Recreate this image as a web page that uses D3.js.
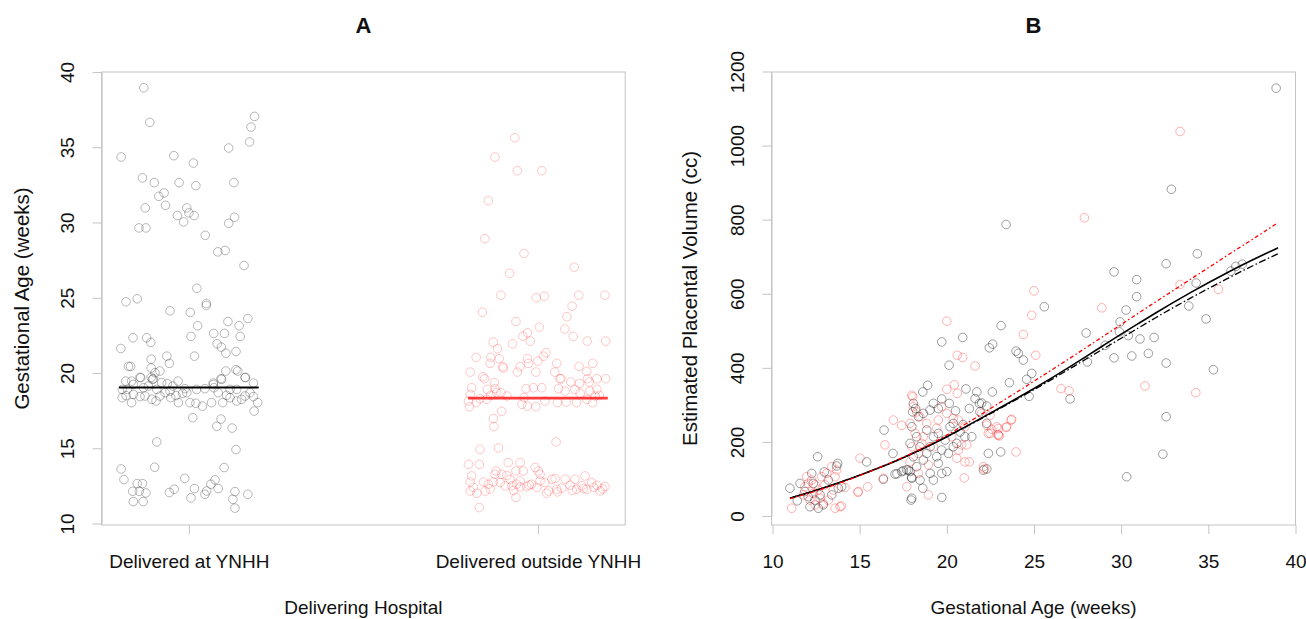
<!DOCTYPE html>
<html><head><meta charset="utf-8">
<script src="https://cdn.jsdelivr.net/npm/d3@7"></script>
<style>
body{margin:0;background:#fff;}
text{font-family:"Liberation Sans", Arial, Helvetica, sans-serif;fill:#111;}
</style></head><body>
<svg id="chart" width="1306" height="619"></svg>
<script>
// ---------- DATA ----------
const groups = ["Delivered at YNHH", "Delivered outside YNHH"];
const gaTicks = [10, 15, 20, 25, 30, 35, 40];
const weekTicks = [10, 15, 20, 25, 30, 35, 40];
const volTicks = [0, 200, 400, 600, 800, 1000, 1200];
const groupMeans = [19.03, 18.33];

// Panel A: jitter offsets (category units) and gestational ages
const ynhhOffset = [-0.129,-0.112,0.188,0.178,0.174,-0.194,-0.043,0.114,0.013,-0.133,-0.099,-0.028,0.020,0.129,-0.071,-0.086,-0.067,-0.125,-0.006,-0.033,0.000,0.015,-0.015,0.131,0.114,-0.143,-0.123,0.047,0.083,0.104,0.158,0.023,-0.180,-0.148,0.050,0.050,-0.054,0.004,0.112,0.144,0.169,0.025,0.071,0.102,0.147,-0.160,-0.121,-0.109,0.006,0.081,0.093,0.106,0.135,-0.195,0.016,-0.108,-0.063,-0.056,-0.173,-0.167,-0.108,-0.083,-0.097,-0.108,-0.102,0.106,0.135,0.140,0.162,-0.140,0.092,0.070,0.185,-0.191,-0.181,-0.164,-0.159,-0.138,-0.130,-0.116,-0.104,-0.092,-0.078,-0.062,-0.046,-0.031,-0.011,-0.006,-0.191,-0.180,-0.164,-0.159,-0.140,-0.126,-0.106,-0.094,-0.083,-0.068,-0.052,-0.037,-0.030,-0.018,0.003,0.020,0.039,0.070,0.094,0.118,0.137,0.161,0.072,0.084,0.097,0.065,0.108,0.118,0.137,0.161,0.175,0.185,0.197,0.187,0.151,0.046,0.022,-0.054,-0.176,0.011,0.080,0.092,0.124,-0.092,0.135,-0.194,-0.098,0.101,-0.186,-0.012,-0.148,-0.133,-0.161,-0.142,-0.123,-0.056,-0.042,0.016,0.006,0.046,0.051,0.063,0.075,0.084,0.132,0.126,0.132,0.169,-0.159,-0.131];
const ynhhGA = [38.95,36.65,37.05,36.34,35.35,34.35,34.44,34.95,33.95,32.96,32.65,32.65,32.45,32.65,31.96,31.74,31.14,30.97,30.97,30.46,30.64,30.46,30.04,30.35,29.95,29.64,29.64,29.15,28.05,28.14,27.14,25.63,24.73,24.93,24.62,24.49,24.13,24.02,23.42,23.14,23.62,23.14,22.63,22.63,22.43,22.34,22.34,22.03,22.43,21.94,21.72,21.32,21.43,21.63,21.12,20.92,21.12,20.64,20.44,20.44,20.33,20.13,20.02,19.71,19.62,20.13,20.22,20.13,19.71,19.71,19.62,19.33,19.33,18.91,19.46,19.46,19.24,19.69,19.02,19.13,19.58,18.91,19.36,19.30,19.13,19.46,18.96,18.69,18.36,18.50,18.03,18.58,18.43,18.47,18.25,18.14,18.47,18.69,18.36,18.50,18.03,18.65,18.03,17.99,17.80,19.24,19.58,18.91,18.91,19.69,19.02,18.69,18.03,18.03,18.52,18.36,18.14,18.47,18.69,18.43,18.03,17.47,18.25,18.96,18.91,18.80,18.91,17.03,16.46,16.94,16.34,15.42,14.91,13.62,13.74,13.72,12.92,13.00,12.65,12.65,12.14,12.14,12.03,12.06,12.28,12.32,11.70,11.94,12.16,12.61,12.90,12.32,12.12,11.61,11.02,11.94,11.46,11.46];

const outsideOffset = [-0.066,-0.123,-0.059,0.011,-0.142,-0.152,-0.040,0.104,-0.081,-0.106,-0.005,0.018,0.117,0.192,0.098,0.083,-0.159,-0.063,0.004,0.077,0.101,0.141,0.194,-0.043,-0.030,-0.022,-0.073,-0.128,-0.116,-0.177,-0.135,-0.137,-0.111,-0.101,-0.099,-0.030,-0.027,0.000,0.016,0.023,-0.051,-0.059,-0.006,0.054,0.048,0.066,0.118,0.140,0.157,-0.194,-0.158,-0.153,-0.125,0.094,0.119,0.142,0.147,0.169,0.194,0.063,-0.190,-0.194,-0.145,-0.123,-0.106,-0.089,-0.034,-0.013,0.011,0.059,0.078,0.106,0.121,0.149,0.169,0.176,-0.199,-0.196,-0.177,-0.166,-0.147,-0.135,-0.118,-0.046,-0.030,-0.006,0.020,0.056,0.081,0.111,0.140,0.157,0.164,-0.040,-0.128,-0.126,-0.104,-0.166,-0.113,0.052,-0.199,-0.168,-0.085,-0.051,-0.120,-0.123,-0.063,-0.042,-0.008,0.001,0.006,-0.190,-0.156,-0.128,-0.194,-0.194,-0.175,-0.168,-0.151,-0.108,-0.094,-0.080,-0.075,-0.061,-0.051,-0.032,-0.018,-0.003,0.006,0.020,0.030,0.040,0.049,0.054,0.078,0.092,0.106,0.111,0.126,0.135,0.140,0.154,0.169,0.178,0.192,-0.063,0.025,0.056,-0.142,-0.089,0.130,-0.104,-0.051,-0.185,-0.137,-0.070,-0.025,0.068,0.098,0.160,0.185];
const outsideGA = [35.63,34.35,33.44,33.44,31.45,28.93,27.94,27.03,26.63,25.17,25.00,25.10,25.17,25.17,24.44,23.74,24.04,23.42,23.05,22.92,22.43,22.12,22.12,22.45,22.67,22.12,21.94,22.05,21.61,21.04,21.04,20.64,20.95,20.42,20.33,20.95,20.64,20.79,21.12,21.35,20.42,20.06,20.06,20.64,20.06,19.62,20.44,20.11,20.64,20.06,19.75,19.62,19.36,19.40,19.31,19.62,19.40,19.62,19.62,19.62,19.02,18.58,18.91,18.96,18.69,18.47,18.96,19.02,19.02,18.96,18.80,18.91,18.65,18.80,18.91,18.51,18.14,17.76,18.03,18.29,18.25,18.51,18.69,17.92,17.80,17.76,18.14,18.03,18.07,18.03,18.25,18.03,18.47,18.36,16.97,16.44,17.45,14.93,15.02,15.42,13.93,13.93,14.05,14.05,13.49,13.27,13.49,13.49,13.72,13.49,13.27,13.16,12.76,12.76,12.76,12.16,12.01,11.06,12.16,12.72,12.50,12.94,12.50,12.61,12.43,12.46,12.61,12.39,12.83,12.72,12.16,12.94,12.99,12.28,12.94,12.54,12.94,12.28,12.50,13.16,12.28,12.72,12.54,12.16,12.46,11.73,12.01,12.10,12.61,13.20,12.32,13.27,12.83,12.40,12.30,12.20,12.55,12.35,12.20,12.40,12.30];

// Panel B: gestational age (weeks) and estimated placental volume (cc)
const ynhhWeeks = [12.59,11.0,11.42,15.40,16.91,16.36,17.03,17.41,17.79,17.98,17.95,13.74,13.97,12.25,12.97,11.86,12.44,12.15,12.63,13.40,13.78,12.73,11.58,12.34,13.20,12.05,12.91,13.68,23.11,19.71,20.91,22.44,22.63,20.13,23.97,24.10,18.90,18.62,21.10,21.72,22.61,23.59,20.14,19.71,19.23,19.51,19.04,18.08,18.21,18.65,18.37,18.04,21.29,21.62,21.87,22.29,21.90,22.29,21.43,22.38,23.09,22.29,22.10,16.40,17.99,19.71,17.99,18.27,17.89,18.46,18.08,18.65,19.04,19.23,18.85,19.51,19.90,20.18,20.37,20.76,20.09,19.51,19.04,18.46,17.99,18.62,19.23,19.71,20.0,17.89,17.51,20.57,20.37,21.04,19.42,19.71,18.27,18.85,23.40,25.59,29.59,30.89,30.89,30.28,29.94,27.99,31.08,30.61,29.59,28.06,29.09,24.39,24.87,24.58,24.72,27.07,22.0,30.32,31.56,38.89,32.88,34.37,32.58,36.29,36.58,36.95,34.30,33.88,34.87,31.89,30.41,29.90,32.58,35.29,32.58,32.39,17.14,17.69,20.5,20.93];
const ynhhVolume = [160,75,41,146,169,99,113,120,124,104,43,142,79,115,119,66,43,25,21,57,75,57,88,88,97,52,30,135,514,470,482,454,464,407,445,439,353,335,343,335,335,360,304,316,304,290,286,304,290,277,268,281,290,317,304,297,281,250,214,169,173,127,124,232,48,50,241,214,196,187,160,151,187,214,232,223,205,241,250,227,169,142,115,97,102,75,97,115,120,120,122,196,187,214,160,178,133,169,787,565,659,638,592,556,524,494,478,432,427,416,461,421,385,369,323,316,305,106,439,1155,882,708,681,661,674,680,629,567,532,482,487,497,413,395,268,167,114,125,284,247];

const outsideWeeks = [11.10,11.96,12.25,12.44,11.77,12.15,12.73,13.20,13.49,13.59,13.68,13.40,13.87,13.59,14.16,14.92,15.46,15.02,16.45,12.82,13.01,12.63,12.34,12.05,12.91,12.44,11.86,13.11,20.0,20.60,20.91,21.62,20.43,20.0,20.60,18.04,22.0,22.48,22.86,23.44,23.72,22.48,22.95,23.97,21.04,21.29,20.66,20.57,20.85,21.14,21.04,20.66,20.37,16.93,17.41,17.70,18.94,16.36,17.99,18.08,18.46,17.89,18.18,18.65,17.99,18.37,18.94,19.23,19.51,19.71,19.42,18.37,17.89,20.0,20.28,18.85,18.27,18.56,27.89,25.0,24.87,24.39,25.10,28.89,26.55,27.01,31.37,23.68,23.40,22.95,22.38,22.58,23.01,22.29,22.10,33.38,33.38,35.58,34.28,21.0,22.15,22.94,14.90,13.95];
const outsideVolume = [21,106,97,84,57,43,48,43,70,106,124,133,25,21,77,66,79,156,192,106,84,70,61,88,34,30,79,115,526,434,428,405,354,342,331,322,277,272,241,241,261,223,218,173,146,146,178,156,192,192,241,259,263,259,245,79,57,102,326,295,268,250,223,214,187,169,138,187,259,295,237,115,146,277,214,250,281,196,805,608,542,490,434,562,344,338,351,259,239,236,223,234,216,245,133,1038,625,612,333,103,127,220,64,27];

// Fitted curves
const curveWeeks = [11,12,13,14,15,16,17,18,19,20,21,22,23,24,25,26,27,28,29,30,31,32,33,34,35,36,37,38,39];
const fitAll = [48,62,77,93,110,128,147,168,190,214,239,265,291,317,344,372,401,431,461,491,520,549,577,604,630,655,679,702,724];
const fitYnhh = [48,62,77,93,110,128,147,168,190,214,238,263,289,315,341,368,396,424,452,480,508,536,563,589,614,639,663,686,708];
const fitOutside = [47,60,75,91,109,128,148,169,192,218,246,275,305,334,364,394,424,455,486,517,548,579,609,640,670,701,731,761,792];

// ---------- DRAW ----------
const svg = d3.select("#chart");
svg.append("rect").attr("width",1306).attr("height",619).attr("fill","#fff");
const boxTop = 72, boxBottom = 525;
const axisCol = "#c4c4c4";
const FS = 19;
const FL = 20.5;

function styleAxis(g){
  g.selectAll("path.domain").attr("stroke", axisCol).attr("stroke-width",1);
  g.selectAll(".tick line").attr("stroke", axisCol).attr("stroke-width",1);
  g.selectAll(".tick text").attr("font-size", FS).attr("fill","#111")
   .attr("font-family",'"Liberation Sans", Arial, sans-serif');
}
function rotateY(g, d){
  g.selectAll(".tick text").attr("transform","rotate(-90)")
   .attr("x",0).attr("y",-d).attr("dy",null).attr("text-anchor","middle");
}

// ===== Panel A =====
const aL = 101.6, aR = 625.2;
const xA = d3.scaleLinear().domain([0.75, 2.25]).range([aL, aR]);
const yA = d3.scaleLinear().domain([10, 40]).range([523.5, 72]);
const gA = svg.append("g");
gA.append("rect").attr("x",aL).attr("y",boxTop).attr("width",aR-aL).attr("height",boxBottom-boxTop)
  .attr("fill","none").attr("stroke",axisCol);

const ayA = gA.append("g").attr("transform",`translate(${aL},0)`)
  .call(d3.axisLeft(yA).tickValues(gaTicks).tickSize(9).tickSizeOuter(0).tickFormat(d3.format("d")));
styleAxis(ayA); rotateY(ayA, 28);
const axA = gA.append("g").attr("transform",`translate(0,${boxBottom})`)
  .call(d3.axisBottom(xA).tickValues([1,2]).tickSize(9).tickSizeOuter(0).tickFormat((d,i)=>groups[i]));
styleAxis(axA);
axA.selectAll("path.domain").remove();
axA.selectAll(".tick text").attr("y",43).attr("dy",null);

const ptsA1 = ynhhGA.map((v,i)=>({x:1+ynhhOffset[i], y:v}));
const ptsA2 = outsideGA.map((v,i)=>({x:2+outsideOffset[i], y:v}));
gA.append("g").selectAll("circle").data(ptsA1).join("circle")
  .attr("cx",d=>xA(d.x)).attr("cy",d=>yA(d.y)).attr("r",4.3)
  .attr("fill","none").attr("stroke","rgba(0,0,0,0.28)").attr("stroke-width",1);
gA.append("g").selectAll("circle").data(ptsA2).join("circle")
  .attr("cx",d=>xA(d.x)).attr("cy",d=>yA(d.y)).attr("r",4.3)
  .attr("fill","none").attr("stroke","rgba(255,0,0,0.22)").attr("stroke-width",1);

gA.append("line").attr("x1",xA(0.8)).attr("x2",xA(1.2)).attr("y1",yA(groupMeans[0])).attr("y2",yA(groupMeans[0]))
  .attr("stroke","#000").attr("stroke-width",2);
gA.append("line").attr("x1",xA(1.8)).attr("x2",xA(2.2)).attr("y1",yA(groupMeans[1])).attr("y2",yA(groupMeans[1]))
  .attr("stroke","#ff1a1a").attr("stroke-opacity",0.85).attr("stroke-width",2.8);

gA.append("text").attr("x",(aL+aR)/2).attr("y",33).attr("text-anchor","middle")
  .attr("font-size",22).attr("font-weight","bold").text("A");
gA.append("text").attr("x",(aL+aR)/2).attr("y",614).attr("text-anchor","middle")
  .attr("font-size",FS).text("Delivering Hospital");
gA.append("text").attr("transform",`translate(29,${(boxTop+boxBottom)/2}) rotate(-90)`)
  .attr("text-anchor","middle").attr("font-size",FL).text("Gestational Age (weeks)");

// ===== Panel B =====
const bL = 771.5, bR = 1295.5;
const xB = d3.scaleLinear().domain([10, 40]).range([772.5, 1295.5]);
const yB = d3.scaleLinear().domain([0, 1200]).range([516, 71.5]);
const gB = svg.append("g");
gB.append("rect").attr("x",bL).attr("y",boxTop).attr("width",bR-bL).attr("height",boxBottom-boxTop)
  .attr("fill","none").attr("stroke",axisCol);
const ayB = gB.append("g").attr("transform",`translate(${bL},0)`)
  .call(d3.axisLeft(yB).tickValues(volTicks).tickSize(9).tickSizeOuter(0).tickFormat(d3.format("d")));
styleAxis(ayB); rotateY(ayB, 28);
const axB = gB.append("g").attr("transform",`translate(0,${boxBottom})`)
  .call(d3.axisBottom(xB).tickValues(weekTicks).tickSize(9).tickSizeOuter(0).tickFormat(d3.format("d")));
styleAxis(axB);
axB.selectAll("path.domain").remove();
axB.selectAll(".tick text").attr("y",43).attr("dy",null);

const ptsB1 = ynhhWeeks.map((w,i)=>({x:w, y:ynhhVolume[i]}));
const ptsB2 = outsideWeeks.map((w,i)=>({x:w, y:outsideVolume[i]}));
gB.append("g").selectAll("circle").data(ptsB1).join("circle")
  .attr("cx",d=>xB(d.x)).attr("cy",d=>yB(d.y)).attr("r",4.3)
  .attr("fill","none").attr("stroke","rgba(0,0,0,0.38)").attr("stroke-width",1);
gB.append("g").selectAll("circle").data(ptsB2).join("circle")
  .attr("cx",d=>xB(d.x)).attr("cy",d=>yB(d.y)).attr("r",4.3)
  .attr("fill","none").attr("stroke","rgba(255,0,0,0.3)").attr("stroke-width",1);

const line = d3.line().x(d=>xB(d[0])).y(d=>yB(d[1])).curve(d3.curveBasis);
gB.append("path").attr("d", line(curveWeeks.map((w,i)=>[w, fitAll[i]])))
  .attr("fill","none").attr("stroke","#000").attr("stroke-width",1.6);
gB.append("path").attr("d", line(curveWeeks.map((w,i)=>[w, fitYnhh[i]])))
  .attr("fill","none").attr("stroke","#000").attr("stroke-width",1.3).attr("stroke-dasharray","7,2.5,1.5,2.5");
gB.append("path").attr("d", line(curveWeeks.map((w,i)=>[w, fitOutside[i]])))
  .attr("fill","none").attr("stroke","#ff0000").attr("stroke-width",1.3).attr("stroke-dasharray","4,2.5,1.5,2.5");

gB.append("text").attr("x",(bL+bR)/2).attr("y",33).attr("text-anchor","middle")
  .attr("font-size",22).attr("font-weight","bold").text("B");
gB.append("text").attr("x",(bL+bR)/2).attr("y",614).attr("text-anchor","middle")
  .attr("font-size",FS).text("Gestational Age (weeks)");
gB.append("text").attr("transform",`translate(697,${(boxTop+boxBottom)/2}) rotate(-90)`)
  .attr("text-anchor","middle").attr("font-size",FL).text("Estimated Placental Volume (cc)");
</script>
</body></html>
